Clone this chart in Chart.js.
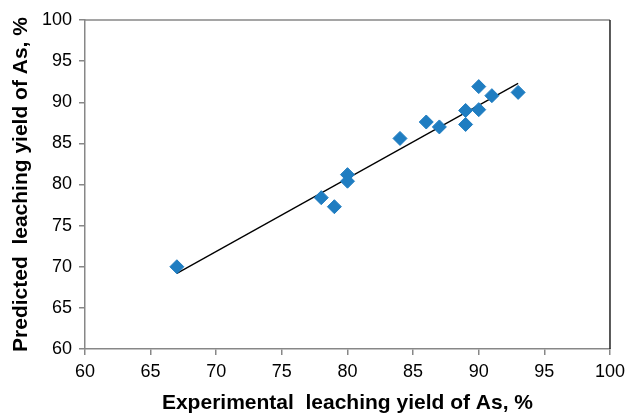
<!DOCTYPE html>
<html>
<head>
<meta charset="utf-8">
<script src="https://cdn.jsdelivr.net/npm/chart.js@4/dist/chart.umd.min.js"></script>
<style>
  html, body { margin: 0; padding: 0; background: #fff; }
  #wrap { width: 631px; height: 414px; }
</style>
</head>
<body>
<div id="wrap"><canvas id="chart"></canvas></div>
<script>
// experimental vs predicted leaching yield of As, %
const experimental = [67, 78, 79, 80, 80, 84, 86, 87, 89, 89, 90, 90, 91, 93]
const predicted = [70.0, 78.4, 77.3, 81.2, 80.4, 85.6, 87.6, 87.0, 89.0, 87.3, 91.9, 89.1, 90.8, 91.2]
// fitted line, end points
const fitX = [67, 93]
const fitY = [69.2, 92.3]
const xTicks = [60, 65, 70, 75, 80, 85, 90, 95, 100]
const yTicks = [60, 65, 70, 75, 80, 85, 90, 95, 100]

const axisGray = '#878787'

// top and right edges of the plot box
const boxPlugin = {
  id: 'box',
  afterDraw(chart) {
    const { ctx, chartArea: a } = chart
    ctx.save()
    ctx.lineWidth = 1.5
    ctx.strokeStyle = axisGray
    ctx.beginPath()
    ctx.moveTo(a.left, a.top)
    ctx.lineTo(a.right, a.top)
    ctx.stroke()
    ctx.strokeStyle = '#222'
    ctx.beginPath()
    ctx.moveTo(a.right, a.top)
    ctx.lineTo(a.right, a.bottom)
    ctx.stroke()
    ctx.restore()
  },
}

const ctx = document.getElementById('chart').getContext('2d')
new Chart(ctx, {
  type: 'scatter',
  data: {
    datasets: [
      {
        label: 'fit',
        data: fitX.map((x, i) => ({ x: x, y: fitY[i] })),
        showLine: true,
        borderColor: '#000',
        borderWidth: 1.3,
        pointRadius: 0,
        order: 2,
      },
      {
        label: 'points',
        data: experimental.map((x, i) => ({ x: x, y: predicted[i] })),
        pointStyle: 'rectRot',
        pointRadius: 7,
        pointBackgroundColor: '#1f7dc1',
        pointBorderColor: '#1f7dc1',
        pointBorderWidth: 1,
        order: 1,
      },
    ],
  },
  options: {
    responsive: true,
    maintainAspectRatio: false,
    animation: false,
    layout: { padding: { top: 20, right: 18, left: 0, bottom: 0 } },
    plugins: {
      legend: { display: false },
      tooltip: { enabled: false },
    },
    scales: {
      x: {
        type: 'linear',
        min: 60,
        max: 100,
        afterBuildTicks: s => { s.ticks = xTicks.map(v => ({ value: v })) },
        afterFit: s => { s.height = 65 },
        border: { color: axisGray, width: 1.5 },
        grid: { drawOnChartArea: false, tickLength: 6, color: axisGray, lineWidth: 1.5 },
        ticks: { color: '#000', padding: 6, font: { family: 'Liberation Sans', size: 18 } },
        title: {
          display: true,
          text: 'Experimental  leaching yield of As, %',
          color: '#000',
          padding: { top: 0, bottom: 0 },
          font: { family: 'Liberation Sans', size: 21, weight: 'bold', lineHeight: 1.05 },
        },
      },
      y: {
        type: 'linear',
        min: 60,
        max: 100,
        afterBuildTicks: s => { s.ticks = yTicks.map(v => ({ value: v })) },
        afterFit: s => { s.width = 85 },
        border: { color: axisGray, width: 1.5 },
        grid: { drawOnChartArea: false, tickLength: 6, color: axisGray, lineWidth: 1.5 },
        ticks: { color: '#000', padding: 7, font: { family: 'Liberation Sans', size: 18 } },
        title: {
          display: true,
          text: 'Predicted  leaching yield of As, %',
          color: '#000',
          padding: { top: 10, bottom: 0 },
          font: { family: 'Liberation Sans', size: 21, weight: 'bold', lineHeight: 1.05 },
        },
      },
    },
  },
  plugins: [boxPlugin],
})
</script>
</body>
</html>
